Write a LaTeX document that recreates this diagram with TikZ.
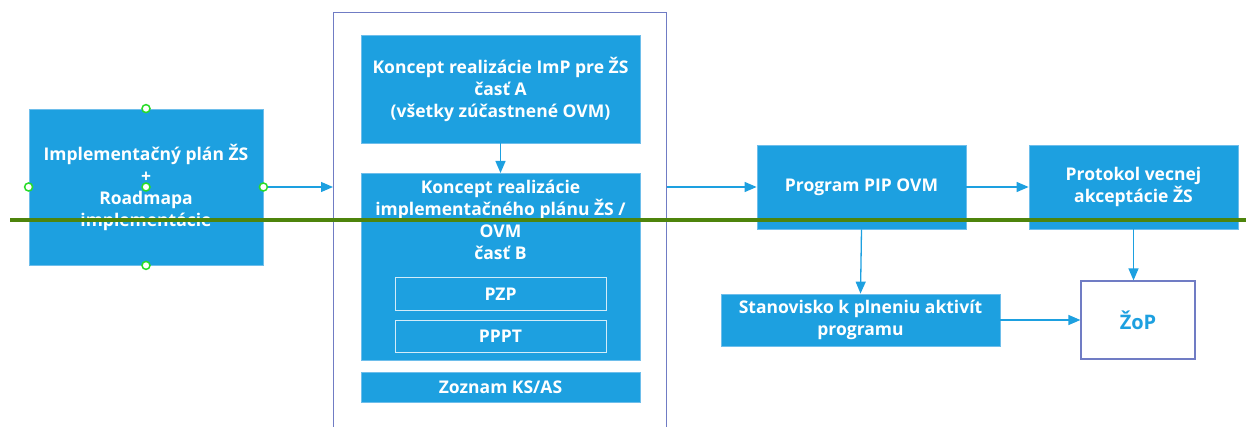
\documentclass[tikz,border=0pt]{standalone}
\usepackage{fontspec}
\setmainfont{Open Sans}
\usetikzlibrary{positioning,arrows.meta,calc}

\definecolor{boxblue}{RGB}{29,160,224}
\definecolor{edgeblue}{RGB}{110,190,235}
\definecolor{framec}{RGB}{112,124,196}
\definecolor{selgreen}{RGB}{78,132,12}
\definecolor{handlec}{RGB}{40,220,40}

\tikzset{
  boxfont/.style={font=\bfseries\fontsize{17.5}{22}\selectfont},
  box/.style={rectangle, fill=boxblue, draw=edgeblue, line width=0.8pt,
    text=white, boxfont, align=center, inner sep=0pt},
  subbox/.style={rectangle, draw=white!80!boxblue, line width=1pt, text=white,
    boxfont, minimum width=211pt, minimum height=32pt, inner sep=0pt},
  flow/.style={draw=boxblue, line width=1.3pt, -{Triangle[length=12pt,width=10pt]}},
  handle/.style={circle, draw=handlec, fill=white, line width=1.5pt, minimum size=8pt, inner sep=0pt},
}

\begin{document}
\begin{tikzpicture}[x=1pt,y=-1pt]
  \useasboundingbox (0,0) rectangle (1246,427);

  % left input
  \node[box, minimum width=234pt, minimum height=156pt] (plan) at (146,187)
    {Implementačný plán ŽS\\+\\Roadmapa\\implementácie};

  % middle frame
  \node[draw=framec, line width=1.2pt, minimum width=333pt, minimum height=440pt,
    anchor=north west, inner sep=0pt] (frame) at (333,12) {};
  \node[box, minimum width=279pt, minimum height=108pt] (partA) at (500.5,89)
    {Koncept realizácie ImP pre ŽS\\časť A\\(všetky zúčastnené OVM)};
  \node[box, minimum width=279pt, minimum height=187pt, anchor=north] (partB) at (500.5,173) {};
  \node[text=white, boxfont, align=center, anchor=north,
    inner sep=0pt] (partBtext) at ($(partB.north)+(0,7)$)
    {Koncept realizácie\\implementačného plánu ŽS /\\OVM\\časť B};
  \node[subbox] (pzp) at (500.5,294) {PZP};
  \node[subbox] (pppt) at (500.5,336) {PPPT};
  \node[box, minimum width=279pt, minimum height=30pt] (zoznam) at (500.5,387) {Zoznam KS/AS};

  % right side
  \node[box, minimum width=209pt, minimum height=84pt] (prog) at (861.5,187) {Program PIP OVM};
  \node[box, minimum width=209pt, minimum height=84pt] (proto) at (1133.5,187)
    {Protokol vecnej\\akceptácie ŽS};
  \node[box, minimum width=279pt, minimum height=52pt] (stan) at (860.5,320)
    {Stanovisko k plneniu aktivít\\programu};
  \node[box, fill=white, draw=framec, line width=1.2pt, text=boxblue,
    font=\bfseries\fontsize{20}{22}\selectfont, minimum width=114pt, minimum height=78pt] (zop) at (1138,320) {ŽoP};

  \draw[flow] (plan.east) -- (frame.west |- plan.east);
  \draw[flow] (partA) -- (partB);
  \draw[flow] (frame.east |- prog.west) -- (prog.west);
  \draw[flow] (prog) -- (proto);
  \draw[flow] (prog.south) -- (stan.north);
  \draw[flow] (proto.south) -- (proto.south |- zop.north);
  \draw[flow] (stan.east) -- (zop.west);

  % selection marks
  \foreach \a in {north,south,east,west,center}
    \node[handle] (h-\a) at (plan.\a) {};
  \draw[selgreen, line width=4pt] (10,220) -- (1246,220);
\end{tikzpicture}
\end{document}
